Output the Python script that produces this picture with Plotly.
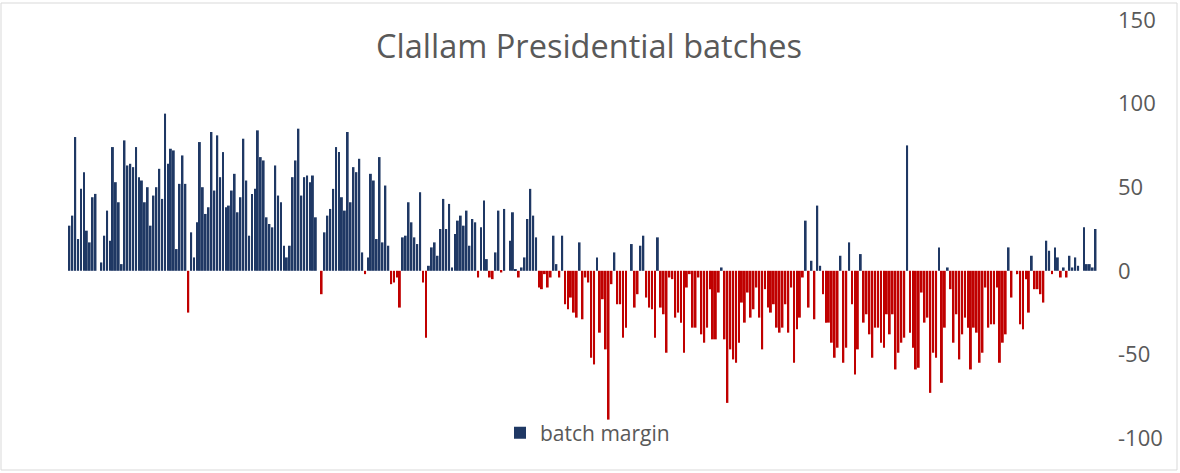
import plotly.graph_objects as go

# margin of each counted batch, in votes (positive = blue, negative = red)
batch_margin = [
    27, 33, 80, 19, 49, 59, 24, 17, 44, 46,
    0, 5, 21, 36, 18, 74, 53, 41, 4, 78,
    63, 64, 62, 74, 56, 54, 41, 50, 27, 45,
    50, 61, 43, 94, 64, 73, 72, 13, 52, 69,
    52, -25, 23, 8, 29, 77, 50, 34, 38, 83,
    48, 81, 56, 71, 38, 39, 48, 58, 35, 44,
    79, 54, 21, 46, 49, 84, 68, 66, 32, 28,
    26, 63, 45, 41, 15, 8, 15, 56, 66, 85,
    45, 56, 57, 53, 57, 32, 0, -14, 23, 33,
    37, 49, 74, 71, 44, 36, 83, 41, 62, 59,
    67, 11, -2, 8, 58, 54, 19, 68, 17, 51,
    15, -8, -7, -4, -22, 20, 21, 41, 29, 20,
    16, 47, -7, -40, 3, 14, 17, 9, 25, 43,
    25, 40, 2, 22, 30, 33, 27, 36, 15, 31,
    29, -4, 26, 42, 7, -4, -5, 11, 36, -1,
    37, 0, 18, 35, 1, -4, 2, 8, 31, 49,
    33, 20, -10, -11, -2, -10, -4, 21, 4, -4,
    21, -20, -23, -16, -25, -28, 17, -29, -4, -7,
    -52, -56, 8, -37, -17, -47, -89, -8, 11, -20,
    -20, -40, -34, 0, 16, -22, -14, 15, 21, -16,
    -22, -23, -40, 20, -22, -26, -49, -4, -5, -28,
    -25, -31, -49, -10, -2, -34, -34, -4, -38, -43,
    -34, -11, -41, -41, -13, 2, -41, -79, -47, -53,
    -55, -43, -19, -31, -13, -28, -23, -10, -28, -47,
    -11, -22, -25, -20, -34, -37, -34, -20, -37, -10,
    -55, -35, -28, -4, 30, -22, 6, -29, 39, 3,
    -14, -31, -31, -43, -52, -46, 9, -55, -46, 17,
    -20, -62, -47, 10, -31, -26, -38, -52, -34, -34,
    -43, -46, -26, -38, -26, -59, -49, -43, -40, 75,
    -37, -46, -59, -58, -13, -31, -28, -73, -49, -52,
    14, -67, -34, 2, -11, -43, -26, -53, -38, -28,
    -34, -59, -34, -37, -55, -49, -10, -34, -32, -32,
    -10, -55, -43, -38, 14, -16, 0, -2, -32, -35,
    -5, -25, 9, -11, -11, -14, -19, 18, 12, -2,
    14, 8, -4, 2, -4, 9, 2, 8, 3, 0,
    26, 4, 4, 2, 25,
]
batch_ids = list(range(1, len(batch_margin) + 1))
y_ticks = [-100, -50, 0, 50, 100, 150]
y_tick_labels = ["-100", "-50", "0", "50", "100", "150"]

POS_COLOR = "#1F3864"
NEG_COLOR = "#C00000"
TEXT_COLOR = "#595959"
FONT = "Open Sans"

W, H = 1180, 473
M = {"l": 68, "r": 83, "t": 20, "b": 35, "autoexpand": False}


def _px_to_paper(px, py):
    """Pixel position in the page -> paper coordinates of the plot area."""
    pw = W - M["l"] - M["r"]
    ph = H - M["t"] - M["b"]
    return (px - M["l"]) / pw, (H - M["b"] - py) / ph


colors = [POS_COLOR if v >= 0 else NEG_COLOR for v in batch_margin]

fig = go.Figure(
    go.Bar(
        x=batch_ids,
        y=batch_margin,
        name="batch margin",
        marker={"color": colors, "line": {"width": 0}},
        showlegend=True,
        hovertemplate="batch %{x}: %{y}<extra></extra>",
    )
)

# thin grey frame round the whole chart
x0, y1 = _px_to_paper(1, 3)
x1, y0 = _px_to_paper(1177, 470)
fig.add_shape(
    type="rect", xref="paper", yref="paper",
    x0=x0, x1=x1, y0=y0, y1=y1,
    line={"color": "#D9D9D9", "width": 1},
    fillcolor="rgba(0,0,0,0)", layer="below",
)

leg_x, leg_y = _px_to_paper(500, 433)

fig.update_layout(
    width=W,
    height=H,
    margin=M,
    paper_bgcolor="white",
    plot_bgcolor="white",
    font={"family": FONT, "color": TEXT_COLOR},
    bargap=0.35,
    title={
        "text": "Clallam Presidential batches",
        "xref": "container", "yref": "container",
        "x": 589 / W, "y": 1 - 47 / H,
        "xanchor": "center", "yanchor": "middle",
        "font": {"size": 32.5, "color": TEXT_COLOR, "family": FONT},
    },
    legend={
        "orientation": "h",
        "x": leg_x, "y": leg_y,
        "xanchor": "left", "yanchor": "middle",
        "bgcolor": "rgba(0,0,0,0)",
        "font": {"size": 21, "color": TEXT_COLOR},
    },
)
fig.update_xaxes(
    range=[0.5, len(batch_margin) + 0.5],
    showticklabels=False, showgrid=False, zeroline=False, showline=False, ticks="",
    automargin=False,
)
fig.update_yaxes(
    side="right",
    range=[-100, 150],
    tickvals=y_ticks,
    ticktext=y_tick_labels,
    showgrid=False, zeroline=False, showline=False, ticks="",
    ticklabelstandoff=20,
    automargin=False,
    tickfont={"size": 22, "color": TEXT_COLOR},
)

# the page's default 8px body margin would shift the whole chart
fig.write_html(
    "out.html",
    config={"displayModeBar": False},
    post_script="document.body.style.margin = '0';",
)
